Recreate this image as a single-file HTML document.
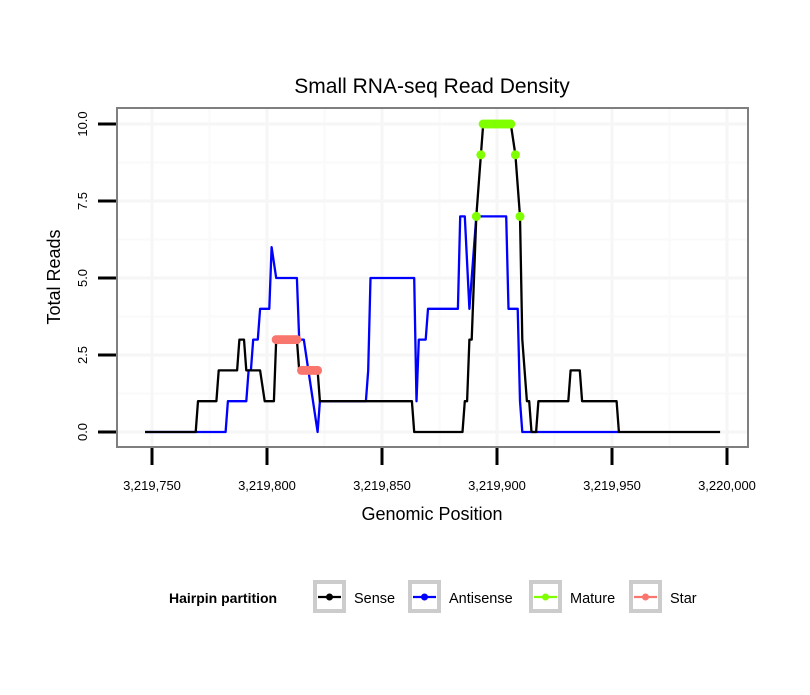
<!DOCTYPE html>
<html><head><meta charset="utf-8"><style>
body{margin:0;background:#fff;font-family:"Liberation Sans",sans-serif}
</style></head><body>
<svg id="chart" width="810" height="690" xmlns="http://www.w3.org/2000/svg">
<rect width="810" height="690" fill="#fff"/>
<text x="432" y="93" font-size="21" text-anchor="middle" fill="#000">Small RNA-seq Read Density</text>
<g id="grid"></g>
<g id="series"></g>
<rect x="117" y="108" width="631" height="339" fill="none" stroke="#7f7f7f" stroke-width="2"/>
<g id="axes"></g>
<text x="432" y="520" font-size="18" text-anchor="middle">Genomic Position</text>
<text transform="translate(60,277) rotate(-90)" font-size="18" text-anchor="middle">Total Reads</text>
<g id="legend">
<text x="169" y="603" font-size="14" font-weight="bold">Hairpin partition</text>
</g>
</svg>
<script>
const xTicks=[3219750,3219800,3219850,3219900,3219950,3220000];
const xTickLabels=["3,219,750","3,219,800","3,219,850","3,219,900","3,219,950","3,220,000"];
const yTicks=[0,2.5,5,7.5,10];
const yTickLabels=["0.0","2.5","5.0","7.5","10.0"];
const senseX=[3219747,3219769,3219770,3219778,3219779,3219787,3219788,3219790,3219791,3219797,3219799,3219803,3219804,3219813,3219814,3219822,3219823,3219863,3219864,3219885,3219886,3219887,3219888,3219889,3219891,3219893,3219894,3219906,3219908,3219910,3219911,3219913,3219914,3219915,3219917,3219918,3219931,3219932,3219936,3219937,3219952,3219953,3219997];
const senseY=[0,0,1,1,2,2,3,3,2,2,1,1,3,3,2,2,1,1,0,0,1,1,3,3,7,9,10,10,9,7,3,1,1,0,0,1,1,2,2,1,1,0,0];
const antiX=[3219747,3219782,3219783,3219791,3219792,3219793,3219794,3219796,3219797,3219801,3219802,3219804,3219813,3219814,3219816,3219818,3219820,3219822,3219823,3219843,3219844,3219845,3219864,3219865,3219866,3219869,3219870,3219883,3219884,3219886,3219888,3219891,3219904,3219905,3219909,3219910,3219911,3219953];
const antiY=[0,0,1,1,2,2,3,3,4,4,6,5,5,3,3,2,1,0,1,1,2,5,5,1,3,3,4,4,7,7,4,7,7,4,4,1,0,0];
const matureX=[3219891,3219893,3219894,3219895,3219896,3219897,3219898,3219899,3219900,3219901,3219902,3219903,3219904,3219905,3219906,3219908,3219910];
const matureY=[7,9,10,10,10,10,10,10,10,10,10,10,10,10,10,9,7];
const starX=[3219804,3219805,3219806,3219807,3219808,3219809,3219810,3219811,3219812,3219813,3219815,3219816,3219817,3219818,3219819,3219820,3219821,3219822];
const starY=[3,3,3,3,3,3,3,3,3,3,2,2,2,2,2,2,2,2];
const legendLabels=["Sense","Antisense","Mature","Star"];

const NS="http://www.w3.org/2000/svg";
const sx=v=>152+(v-3219750)*2.3;
const sy=v=>432-v*30.8;
function mk(tag,attrs,parent){const e=document.createElementNS(NS,tag);for(const k in attrs)e.setAttribute(k,attrs[k]);parent.appendChild(e);return e;}
const grid=document.getElementById('grid'),axes=document.getElementById('axes'),ser=document.getElementById('series'),leg=document.getElementById('legend');
mk('rect',{x:117,y:108,width:631,height:339,fill:'#fff'},grid);
for(let i=0;i<xTicks.length-1;i++){const l=mk('line',{x1:sx(xTicks[i]+25),x2:sx(xTicks[i]+25),y1:108,y2:447,stroke:'#fafafa','stroke-width':2},grid);

}
for(let i=0;i<yTicks.length-1;i++){const v=yTicks[i]+1.25;const l=mk('line',{x1:117,x2:748,y1:sy(v),y2:sy(v),stroke:'#fafafa','stroke-width':2},grid);

}
xTicks.forEach((t,i)=>{
const g=mk('line',{x1:sx(t),x2:sx(t),y1:108,y2:447,stroke:'#f6f6f6','stroke-width':3},grid);


const tk=mk('line',{x1:sx(t),x2:sx(t),y1:448,y2:465,stroke:'#000','stroke-width':3},axes);


const tx=mk('text',{x:sx(t),y:490,'font-size':13,'text-anchor':'middle'},axes);tx.textContent=xTickLabels[i];


});
yTicks.forEach((t,i)=>{
const g=mk('line',{x1:117,x2:748,y1:sy(t),y2:sy(t),stroke:'#f6f6f6','stroke-width':3},grid);


const tk=mk('line',{x1:98,x2:116,y1:sy(t),y2:sy(t),stroke:'#000','stroke-width':3},axes);


const tx=mk('text',{transform:`translate(87,${sy(t)}) rotate(-90)`,'font-size':13,'text-anchor':'middle'},axes);tx.textContent=yTickLabels[i];


});
function line(xs,ys,color,name){const p=mk('polyline',{points:xs.map((x,i)=>sx(x)+','+sy(ys[i])).join(' '),fill:'none',stroke:color,'stroke-width':2.3,'stroke-linejoin':'round'},ser);

}
function pts(xs,ys,color,name){xs.forEach((x,i)=>{const c=mk('circle',{cx:sx(x),cy:sy(ys[i]),r:4.5,fill:color},ser);

});}
line(antiX,antiY,'#0000ff','antisense-line');
line(senseX,senseY,'#000','sense-line');
pts(starX,starY,'#f8766d','star-point');
pts(matureX,matureY,'#7fff00','mature-point');
const lx=[313,408,529,629],cols=['#000','#0000ff','#7fff00','#f8766d'];
legendLabels.forEach((lab,i)=>{
const g=mk('g',{},leg);


mk('rect',{x:lx[i]+2,y:582,width:29,height:29,fill:'#fff',stroke:'#cccccc','stroke-width':4},g);
mk('line',{x1:lx[i]+5,x2:lx[i]+28,y1:597,y2:597,stroke:cols[i],'stroke-width':2.3},g);
mk('circle',{cx:lx[i]+16.5,cy:597,r:3.5,fill:cols[i]},g);
const t=mk('text',{x:lx[i]+41,y:603,'font-size':14.5},g);t.textContent=lab;
});
</script>
</body></html>
